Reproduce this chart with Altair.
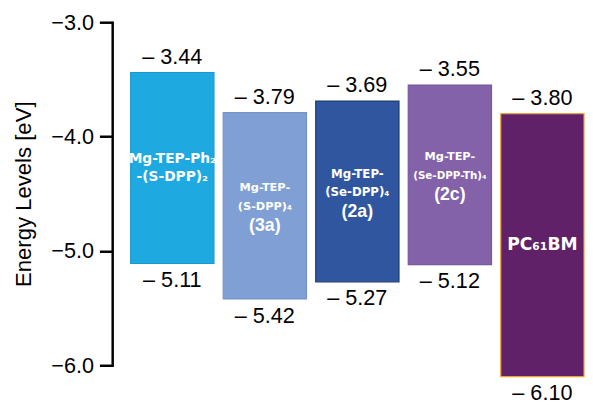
import altair as alt
import pandas as pd

# ---- data ----
compounds = ["Mg-TEP-Ph2-(S-DPP)2", "Mg-TEP-(S-DPP)4 (3a)", "Mg-TEP-(Se-DPP)4 (2a)",
             "Mg-TEP-(Se-DPP-Th)4 (2c)", "PC61BM"]
lumo = [-3.44, -3.79, -3.69, -3.55, -3.80]
homo = [-5.11, -5.42, -5.27, -5.12, -6.10]
bar_lines = [
    ["Mg-TEP-Ph₂", "-(S-DPP)₂"],
    ["Mg-TEP-", "(S-DPP)₄", "(3a)"],
    ["Mg-TEP-", "(Se-DPP)₄", "(2a)"],
    ["Mg-TEP-", "(Se-DPP-Th)₄", "(2c)"],
    ["PC₆₁BM"],
]
y_ticks = [-3.0, -4.0, -5.0, -6.0]

# ---- styles ----
fills = ["#1FA9E1", "#7F9FD5", "#2F569F", "#8362A9", "#612168"]
strokes = ["#1B97CB", "#7592CA", "#1D3C78", "#7658A0", "#E9A23B"]
line_sizes = [[14, 14], [11.5, 11.5, 18], [12, 12, 18], [11.5, 10.5, 18], [17.5]]
line_dy = {1: [0], 2: [-9, 9], 3: [-18, 1, 21]}
FONT = "Liberation Sans"
SUBFONT = "DejaVu Sans"

df = pd.DataFrame({
    "idx": list(range(len(compounds))),
    "compound": compounds,
    "lumo": lumo,
    "homo": homo,
    "fill": fills,
    "stroke": strokes,
})
df["x0"] = df["idx"] - 0.45
df["x1"] = df["idx"] + 0.45
df["mid"] = (df["lumo"] + df["homo"]) / 2
df["top_label"] = ["– %.2f" % abs(v) for v in lumo]
df["bot_label"] = ["– %.2f" % abs(v) for v in homo]

rows = []
for i, lines in enumerate(bar_lines):
    dys = line_dy[len(lines)]
    for j, t in enumerate(lines):
        is_code = t.startswith("(") and len(t) == 4
        rows.append({"idx": i, "mid": df.loc[i, "mid"], "text": t,
                     "fs": line_sizes[i][j], "dy": dys[j],
                     "font": FONT if is_code else SUBFONT})
lines_df = pd.DataFrame(rows)

xs = alt.Scale(domain=[-0.65, 4.45], nice=False, zero=False)
ys = alt.Scale(domain=[-6.0, -3.0], nice=False, zero=False)

bars = alt.Chart(df).mark_rect(strokeWidth=1.2).encode(
    x=alt.X("x0:Q", scale=xs, axis=None),
    x2="x1:Q",
    y=alt.Y("lumo:Q", scale=ys,
            axis=alt.Axis(values=y_ticks, format=".1f", title="Energy Levels [eV]",
                          grid=False, domainColor="black", domainWidth=2.5,
                          domainCap="square", tickColor="black", tickWidth=2.5,
                          tickSize=13, labelFontSize=22, labelColor="black",
                          labelFont=FONT, labelPadding=6, titleFont=FONT,
                          titleFontSize=22.5, titleFontWeight="normal",
                          titleColor="black", titlePadding=16)),
    y2="homo:Q",
    fill=alt.Fill("fill:N", scale=None),
    stroke=alt.Stroke("stroke:N", scale=None),
)

top_txt = alt.Chart(df).mark_text(dy=-16, fontSize=22, font=FONT, color="black").encode(
    x=alt.X("idx:Q", scale=xs), y=alt.Y("lumo:Q", scale=ys), text="top_label:N")
bot_txt = alt.Chart(df).mark_text(dy=17, fontSize=22, font=FONT, color="black").encode(
    x=alt.X("idx:Q", scale=xs), y=alt.Y("homo:Q", scale=ys), text="bot_label:N")

inner_layers = []
for (d, f), _ in lines_df.groupby(["dy", "font"]):
    inner_layers.append(
        alt.Chart(lines_df).transform_filter(
            (alt.datum.dy == int(d)) & (alt.datum.font == f)
        ).mark_text(
            dy=int(d), font=f, fontWeight="bold", color="white", baseline="middle"
        ).encode(
            x=alt.X("idx:Q", scale=xs),
            y=alt.Y("mid:Q", scale=ys),
            text="text:N",
            size=alt.Size("fs:Q", scale=None),
        )
    )

chart = alt.layer(bars, top_txt, bot_txt, *inner_layers).properties(
    width=480, height=349,
    padding={"left": 4, "top": 0, "right": 0, "bottom": 0},
    background="white",
).configure_view(stroke=None)

chart.save("out.html", embed_options={"renderer": "svg", "actions": False})
